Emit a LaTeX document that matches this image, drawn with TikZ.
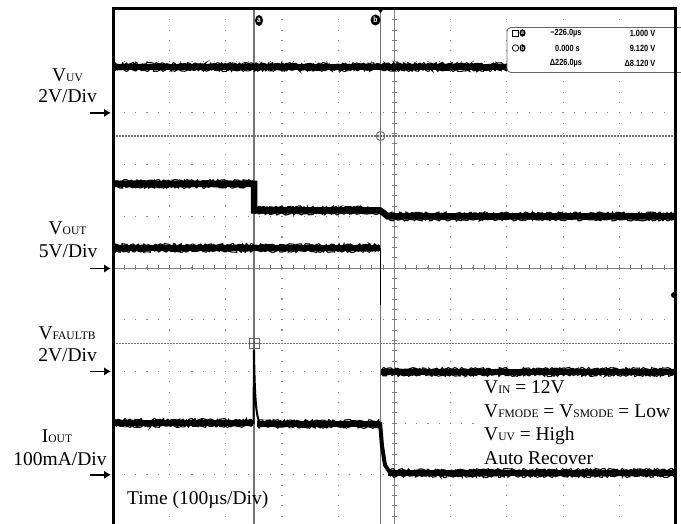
\documentclass[tikz,border=0pt]{standalone}
\usepackage{fontspec}
\setmainfont{Liberation Serif}
\newfontfamily\readfont[FakeStretch=0.82]{Liberation Sans}
\usetikzlibrary{arrows.meta, positioning, shapes.geometric, decorations.pathmorphing}

\newcommand{\sbs}[1]{{\fontsize{11.5}{11.5}\selectfont #1}}

\begin{document}
\begin{tikzpicture}[
  x=1pt, y=-1pt,
  trace/.style={line width=6.5pt},
  fuzz/.style={line width=1.1pt, decorate, decoration={random steps, segment length=1.6pt, amplitude=1.3pt}},
  gridrow/.style={black!45, line width=1.1pt, dash pattern=on 1.1pt off 10.14pt, dash phase=0.55pt},
  gridcol/.style={black!45, line width=1.1pt, dash pattern=on 1.1pt off 9.24pt, dash phase=0.55pt},
  cursorline/.style={black!55, line width=1.2pt},
  hcursor/.style={black!55, line width=1.1pt, dash pattern=on 1.4pt off 1.6pt},
  tag/.style={ellipse, fill=black, text=white, inner sep=0pt, minimum width=8pt, minimum height=11pt, font=\readfont\bfseries\fontsize{8}{8}\selectfont},
  chtext/.style={anchor=base, inner sep=0pt, font=\fontsize{19.5}{22}\selectfont},
  note/.style={anchor=base west, inner sep=0pt, font=\fontsize{19.5}{22}\selectfont},
  readout/.style={inner sep=0pt, font=\readfont\bfseries\fontsize{9}{9}\selectfont},
  gnd/.style={-{Latex[length=7pt, width=8.5pt]}, line width=1.8pt}
]
\useasboundingbox (0,0) rectangle (681,524);

% graticule
\foreach \k in {1,...,9}
  \draw[gridcol] ({113.3+56.22*\k},9.5) -- ({113.3+56.22*\k},530);
\foreach \j in {1,...,9}
  \draw[gridrow] (113.3,{9.5+51.7*\j}) -- (675.5,{9.5+51.7*\j});
\draw[black!50, line width=0.8pt] (113.3,268) -- (675.5,268);
\draw[black!50, line width=5pt, dash pattern=on 0.9pt off 10.34pt, dash phase=0.45pt] (113.3,268) -- (675.5,268);
\draw[black!50, line width=0.8pt] (394.4,9.5) -- (394.4,530);
\draw[black!50, line width=5pt, dash pattern=on 0.9pt off 9.44pt, dash phase=0.45pt] (394.4,9.5) -- (394.4,530);

% white patches under the notes
\fill[white] (478,377.5) rectangle (672,467);
\fill[white] (120,481) rectangle (276,512);

% cursors
\draw[hcursor] (113.3,136) -- (675.5,136);
\draw[hcursor] (113.3,343.5) -- (675.5,343.5);
\draw[cursorline] (254,9.5) -- (254,530);
\draw[cursorline] (380.5,9.5) -- (380.5,530);

% traces
\draw[trace] (113,67) -- (676,67);
\draw[trace] (113,184) -- (254,184) -- (254,210.5) -- (380,210.5) -- (383,212.5) -- (388,216.5) -- (676,216.5);
\draw[trace] (113,248) -- (380,248);
\draw[line width=1.8pt] (380.5,248) -- (380.5,305);
\draw[trace] (381,372) -- (676,372);
\draw[trace] (113,423) -- (252.5,423);
\draw[line width=2pt] (253.5,424) -- (254,350) .. controls (254.6,395) and (256,418) .. (260,423);
\draw[trace] (257,424) -- (380,424);
\draw[line width=4pt] (380,422) -- (382,446) -- (385,465) -- (390,472.5);
\draw[trace] (388,473) -- (676,473);

% trace noise
\foreach \y/\xa/\xb in {67/113/507, 184/113/253, 210.5/255/379, 216.5/389/676, 248/113/379, 372/382/676, 423/113/252, 424/258/379, 473/390/676} {
  \draw[fuzz] (\xa,\y-3.2) -- (\xb,\y-3.2);
  \draw[fuzz] (\xa,\y+3.2) -- (\xb,\y+3.2);
}

% cursor marks
\node[tag] (taga) at (259,20.5) {a};
\node[tag, minimum width=10pt] (tagb) at (375.5,20) {b};
\fill (378,9.5) -- (383,9.5) -- (380.5,13.5) -- cycle;
\draw[black!60, line width=0.8pt] (380.5,136) circle (4.5)
  (376,136) -- (385,136) (380.5,131.5) -- (380.5,140.5);
\draw[black!60, line width=0.8pt] (249,338.5) rectangle (259,348.5)
  (249,343.5) -- (259,343.5) (254,338.5) -- (254,348.5);
\fill (674,295) circle (3);

% readout box
\draw[black!60, line width=0.9pt, fill=white, rounded corners=4pt] (507,27.5) rectangle (700,72.5);
\draw[line width=0.7pt] (512.5,30) rectangle (518.5,36);
\draw[line width=0.7pt] (515.5,48) circle (3.2);
\node[tag, minimum width=6pt, minimum height=7.5pt, font=\readfont\bfseries\fontsize{6}{6}\selectfont] (boxa) at (522.5,33) {a};
\node[tag, minimum width=6pt, minimum height=7.5pt, font=\readfont\bfseries\fontsize{6}{6}\selectfont] (boxb) at (522.5,48) {b};
\node[readout] (ta) at (566,33) {−226.0µs};
\node[readout] (va) at (642.5,33) {1.000 V};
\node[readout] (tb) at (567.5,48) {0.000 s};
\node[readout] (vb) at (642.5,48) {9.120 V};
\node[readout] (dt) at (566,63) {Δ226.0µs};
\node[readout] (dv) at (640,63) {Δ8.120 V};

% channel labels
\node[chtext] (uvname) at (67.5,82) {V\sbs{UV}};
\node[chtext] (uvdiv) at (67.5,103) {2V/Div};
\node[chtext] (outname) at (67.5,235) {V\sbs{OUT}};
\node[chtext] (outdiv) at (68,258) {5V/Div};
\node[chtext] (fltname) at (67,339) {V\sbs{FAULTB}};
\node[chtext] (fltdiv) at (67.5,361) {2V/Div};
\node[chtext] (ioname) at (57,442) {I\sbs{OUT}};
\node[chtext] (iodiv) at (60,465) {100mA/Div};

\coordinate (gnduv) at (111,112.9);
\coordinate (gndout) at (111,268.5);
\coordinate (gndflt) at (111,371.4);
\coordinate (gndio) at (111,474.8);
\foreach \g in {gnduv, gndout, gndflt, gndio}
  \draw[gnd] ([xshift=-21pt]\g) -- (\g);

% notes
\node[note] (time) at (127,504) {Time (100µs/Div)};
\node[note] (vin) at (484,393.5) {V\sbs{IN} = 12V};
\node[note] (mode) at (484,417) {V\sbs{FMODE} = V\sbs{SMODE} = Low};
\node[note] (uvhi) at (484,440.5) {V\sbs{UV} = High};
\node[note] (auto) at (484,464) {Auto Recover};

% screen frame
\draw[line width=3.6pt] (113.3,530) -- (113.3,8.5) -- (675.5,8.5) -- (675.5,530);
\end{tikzpicture}
\end{document}
